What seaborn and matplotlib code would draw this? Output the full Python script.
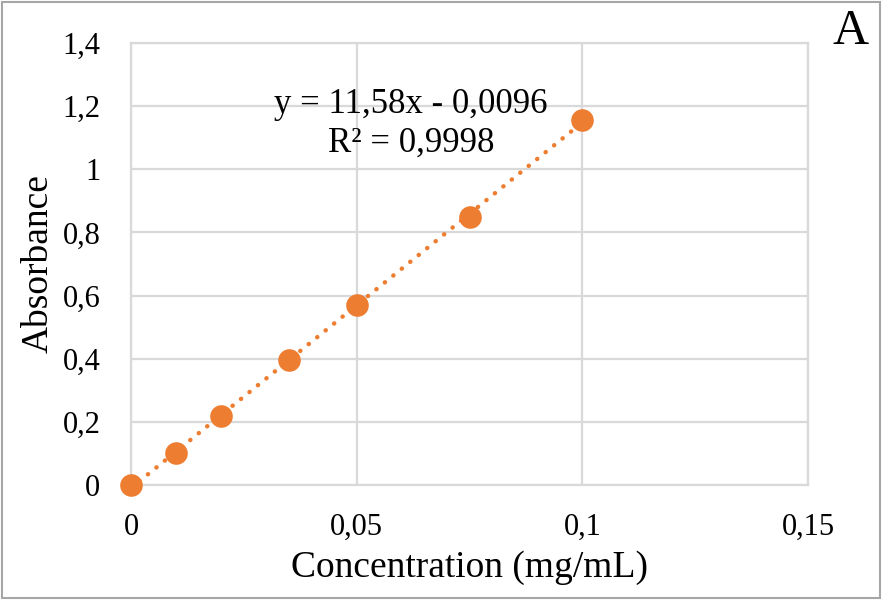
import numpy as np
import matplotlib
matplotlib.use('Agg')
import matplotlib.pyplot as plt
import seaborn as sns

# Dados da curva de calibração
concentracao = [0, 0.01, 0.02, 0.035, 0.05, 0.075, 0.1]
absorbancia = [0, 0.1, 0.22, 0.395, 0.57, 0.85, 1.155]
inclinacao = 11.58
intercepto = -0.0096
eq_texto = "y = 11,58x - 0,0096\nR² = 0,9998"
x_ticks = [0, 0.05, 0.1, 0.15]
x_labels = ["0", "0,05", "0,1", "0,15"]
y_ticks = [0, 0.2, 0.4, 0.6, 0.8, 1.0, 1.2, 1.4]
y_labels = ["0", "0,2", "0,4", "0,6", "0,8", "1", "1,2", "1,4"]

sns.set_style("white")
plt.rcParams['font.family'] = ['Liberation Serif', 'DejaVu Serif']
plt.rcParams['text.color'] = 'black'
plt.rcParams['axes.labelcolor'] = 'black'
laranja = '#ED7D31'
cinza = '#D9D9D9'

fig = plt.figure(figsize=(8.82, 6.0), dpi=100)
ax = fig.add_axes([131 / 882, 1 - 485 / 600, (808 - 131) / 882, (485 - 43) / 600])

# Linha de tendência
xt = np.array([concentracao[0], concentracao[-1]])
ax.plot(xt, inclinacao * xt + intercepto, color=laranja, lw=3.2,
        linestyle=(0, (0.05, 2.4)), dash_capstyle='round', zorder=2)

sns.scatterplot(x=concentracao, y=absorbancia, ax=ax, s=265, color=laranja,
                edgecolor=laranja, linewidth=0, zorder=3, clip_on=False)

ax.set_xlim(0, 0.15)
ax.set_ylim(0, 1.4)
ax.set_xticks(x_ticks)
ax.set_xticklabels(x_labels)
ax.set_yticks(y_ticks)
ax.set_yticklabels(y_labels)
ax.tick_params(axis='both', labelsize=22, length=0, colors='black')
ax.tick_params(axis='x', pad=20)
ax.tick_params(axis='y', pad=22)
ax.grid(True, color=cinza, lw=1.6)
for s in ax.spines.values():
    s.set_color(cinza)
    s.set_linewidth(1.6)
ax.set_axisbelow(True)

ax.set_xlabel("Concentration (mg/mL)", fontsize=27, labelpad=6)
ax.set_ylabel("Absorbance", fontsize=27, labelpad=5)

ax.text(0.062, 1.143, eq_texto, fontsize=25, ha='center', va='center',
        linespacing=1.23)
fig.text(851 / 882, 1 - 32 / 600, "A", fontsize=36, ha='center', va='center')

# Moldura da figura
fig.patches.append(plt.Rectangle((0.002, 0.003), 0.996, 0.994, transform=fig.transFigure,
                                 fill=False, edgecolor='#A6A6A6', lw=1.5))

plt.savefig('out.png', dpi=100)
plt.close()
